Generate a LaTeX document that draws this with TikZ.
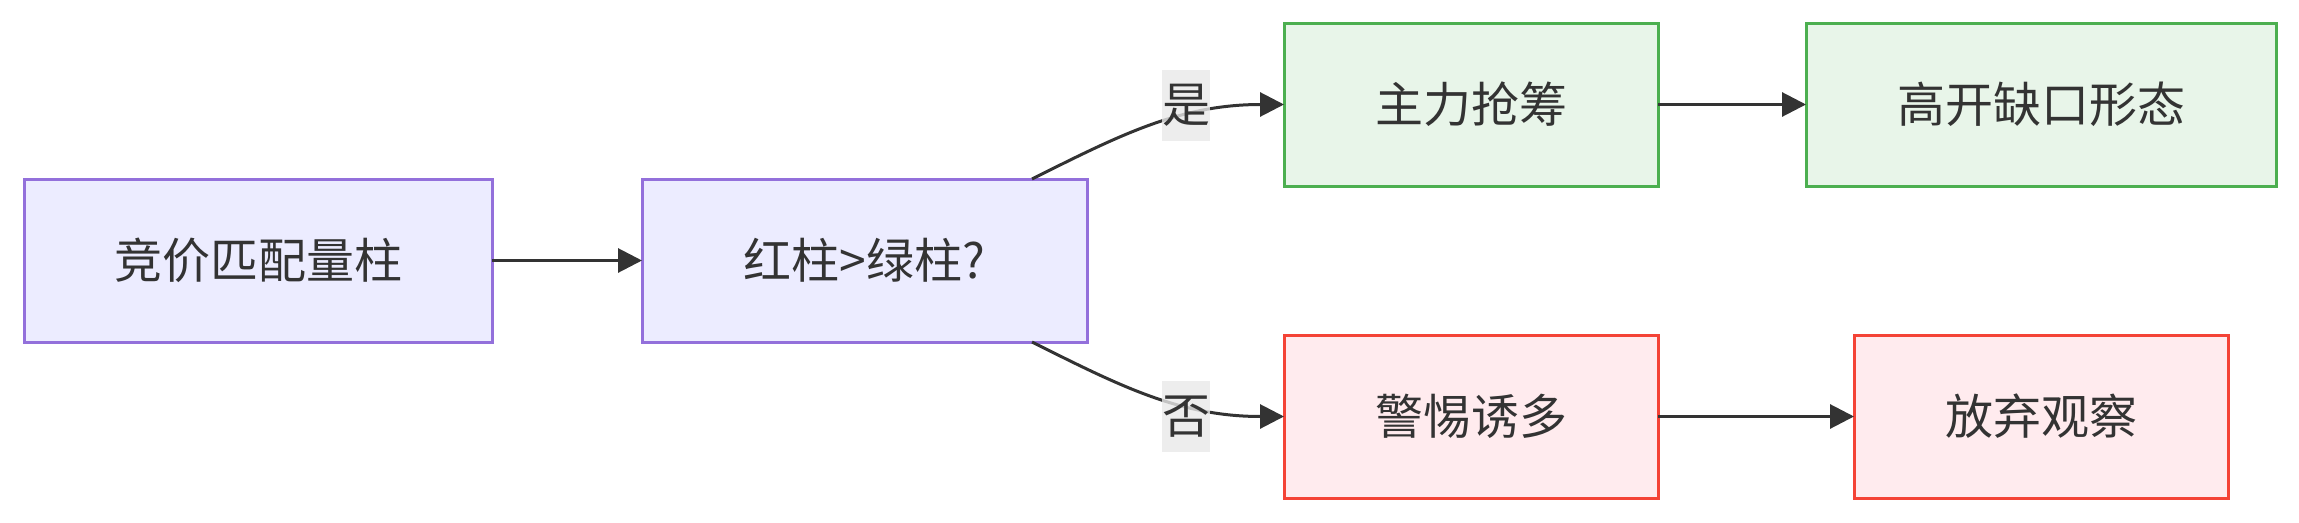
\documentclass[tikz,border=0pt]{standalone}
\usepackage{fontspec}
\newfontfamily\cjk{Noto Sans CJK SC}
\usetikzlibrary{arrows.meta,calc}
\definecolor{txt}{HTML}{333333}
\definecolor{pfill}{HTML}{ECECFF}
\definecolor{pline}{HTML}{9370DB}
\definecolor{gfill}{HTML}{E8F5E9}
\definecolor{gline}{HTML}{4CAF50}
\definecolor{rfill}{HTML}{FFEBEE}
\definecolor{rline}{HTML}{F44336}
\definecolor{lblbg}{HTML}{E8E8E8}
\begin{document}
\begin{tikzpicture}[x=1pt,y=-1pt,
  box/.style={rectangle,draw,line width=3pt,inner sep=0pt,outer sep=0pt,minimum height=163pt,text=txt,font=\cjk\fontsize{48}{58}\selectfont},
  purplebox/.style={box,fill=pfill,draw=pline},
  greenbox/.style={box,fill=gfill,draw=gline},
  redbox/.style={box,fill=rfill,draw=rline},
  edge/.style={draw=txt,line width=3pt,-{Triangle[length=24pt,width=24pt]}},
  elabel/.style={rectangle,fill=lblbg,fill opacity=0.8,text opacity=1,text=txt,inner sep=0pt,minimum width=48pt,minimum height=71pt,font=\cjk\fontsize{48}{58}\selectfont}]
\path[use as bounding box] (0,0) rectangle (2299,522);
\node[purplebox,minimum width=468pt] (b1) at (258,260.5) {竞价匹配量柱};
\node[purplebox,minimum width=445pt] (b2) at (864.5,260.5) {红柱>绿柱?};
\node[greenbox,minimum width=374pt] (b3) at (1471,104.5) {主力抢筹};
\node[greenbox,minimum width=470pt] (b4) at (2041,104.5) {高开缺口形态};
\node[redbox,minimum width=374pt] (b5) at (1471,416.5) {警惕诱多};
\node[redbox,minimum width=374pt] (b6) at (2041,416.5) {放弃观察};
\draw[edge] (b1) -- (b2);
\draw[edge] (b3) -- (b4);
\draw[edge] (b5) -- (b6);
\draw[edge] ($(b2.north east)+(-55,0)$) .. controls ($(b2.north east)+(33,-44)$) and ($(b3.west)+(-104,0)$) .. (b3.west);
\draw[edge] ($(b2.south east)+(-55,0)$) .. controls ($(b2.south east)+(33,44)$) and ($(b5.west)+(-104,0)$) .. (b5.west);
\node[elabel] (lyes) at (1186,105) {是};
\node[elabel] (lno) at (1186,416.5) {否};
\end{tikzpicture}
\end{document}
